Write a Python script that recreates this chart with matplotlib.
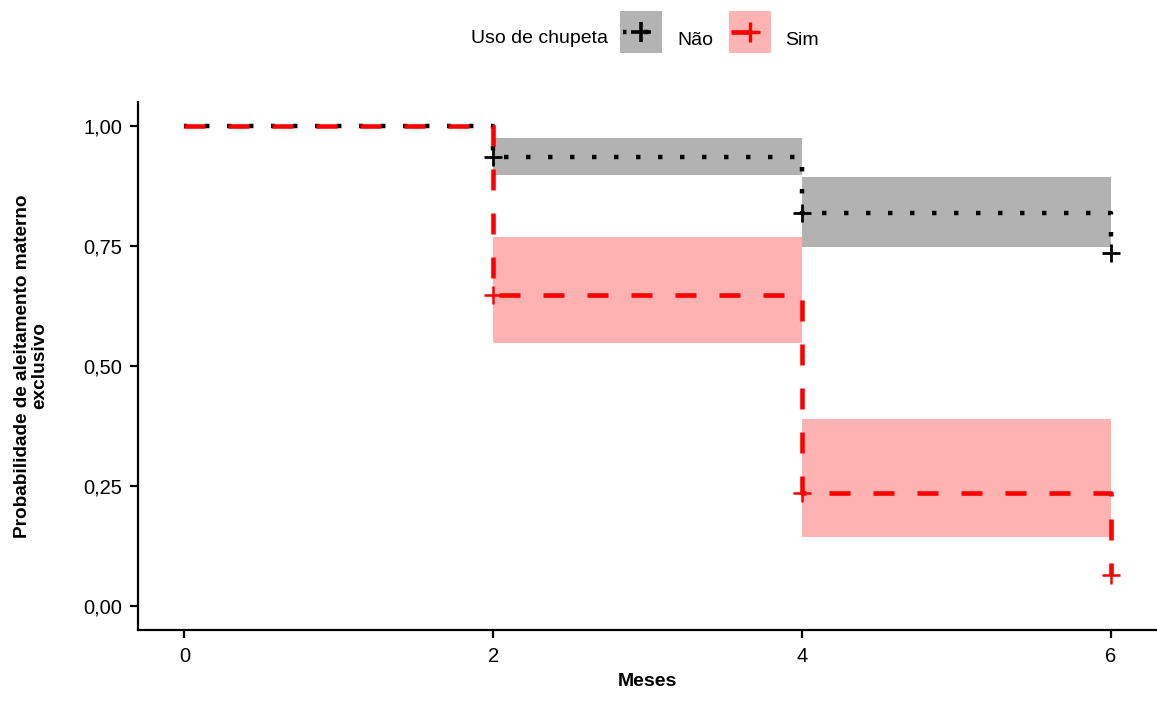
import matplotlib
matplotlib.use("Agg")
import matplotlib.pyplot as plt
from matplotlib.patches import Rectangle
from matplotlib.lines import Line2D
from matplotlib.ticker import FuncFormatter

plt.rcParams["font.family"] = ["Liberation Sans", "DejaVu Sans"]

# ---- data: Kaplan-Meier estimates by pacifier use ----
groups = ["Não", "Sim"]
times = [0, 2, 4, 6]
surv_nao = [1.00, 0.935, 0.818, 0.735]
surv_sim = [1.00, 0.647, 0.236, 0.065]
ci_times = [2, 4, 6]
lo_nao = [0.898, 0.747, 0.747]
hi_nao = [0.974, 0.894, 0.894]
lo_sim = [0.547, 0.144, 0.144]
hi_sim = [0.768, 0.390, 0.390]
cens_t = [2, 4, 6]

styles = {
    "Não": dict(color="black", ls=(0.225, (1, 3.95)), lw=3.2, key="#b3b3b3", ms=13, mew=2.0),
    "Sim": dict(color="red", ls=(0, (4.58, 5.02)), lw=3.3, key="#ffb3b3", ms=13, mew=1.8),
}


class KeyHandler:
    # ggplot-like key: filled square with the line + censor mark on it
    def legend_artist(self, legend, orig_handle, fontsize, handlebox):
        st = styles[orig_handle.get_label()]
        tr = handlebox.get_transform()
        x0, y0 = -handlebox.xdescent, -handlebox.ydescent + 5
        w, h = handlebox.width, handlebox.height
        r = Rectangle((x0, y0), w, h, facecolor=st["key"], edgecolor="none", transform=tr)
        cy = y0 + h / 2
        ln = Line2D([x0 + 2, x0 + w - 2], [cy, cy], color=st["color"], ls=st["ls"],
                    lw=st["lw"], dash_capstyle="butt", transform=tr)
        mk = Line2D([x0 + w / 2], [cy], color=st["color"], marker="+", ls="none",
                    ms=st["ms"] + 1, mew=st["mew"] + 0.6, transform=tr)
        for a in (r, ln, mk):
            handlebox.add_artist(a)
        return r


fig = plt.figure(figsize=(11.57, 7.02), dpi=100)
ax = fig.add_axes([0.1193, 0.1026, 0.8807, 0.7521])

data = {"Não": (surv_nao, lo_nao, hi_nao), "Sim": (surv_sim, lo_sim, hi_sim)}

for g in groups:
    s, lo, hi = data[g]
    ax.fill_between(ci_times, lo, hi, step="post", color=styles[g]["color"], alpha=0.3, lw=0)
for g in groups:
    s, lo, hi = data[g]
    st = styles[g]
    ax.step(times, s, where="post", color=st["color"], ls=st["ls"], lw=st["lw"],
            dash_capstyle="butt", solid_capstyle="butt")
    ax.plot(cens_t, s[1:], "+", color=st["color"], ms=st["ms"], mew=st["mew"], ls="none")

ax.set_xlim(-0.3, 6.3)
ax.set_ylim(-0.05, 1.05)
ax.set_xticks([0, 2, 4, 6])
ax.set_yticks([0, 0.25, 0.5, 0.75, 1.0])
ax.yaxis.set_major_formatter(FuncFormatter(lambda v, p: f"{v:.2f}".replace(".", ",")))
for sp in ["top", "right"]:
    ax.spines[sp].set_visible(False)
for sp in ["left", "bottom"]:
    ax.spines[sp].set_linewidth(1.6)
ax.tick_params(axis="y", length=6, width=1.6, labelsize=14.5, colors="black", pad=5.5)
ax.tick_params(axis="x", length=5.5, width=1.6, labelsize=14.5, colors="black", pad=7)
ax.set_xlabel("Meses", fontsize=14, fontweight="bold", labelpad=5)
ax.set_ylabel("Probabilidade de aleitamento materno\nexclusivo", fontsize=13.7,
              fontweight="bold", labelpad=25, linespacing=1.0)

# ---- legend on top ----
handles = [Line2D([], [], label=g) for g in groups]
fig.legend(handles, groups, handler_map={Line2D: KeyHandler()},
           loc="center", bbox_to_anchor=(0.622, 0.944), ncol=2, frameon=False,
           fontsize=14, handlelength=2.16, handleheight=2.95, handletextpad=0.75,
           columnspacing=0.8, borderpad=0)
fig.text(0.466, 0.945, "Uso de chupeta", fontsize=14, ha="center", va="center")

fig.savefig("out.png", dpi=100)
